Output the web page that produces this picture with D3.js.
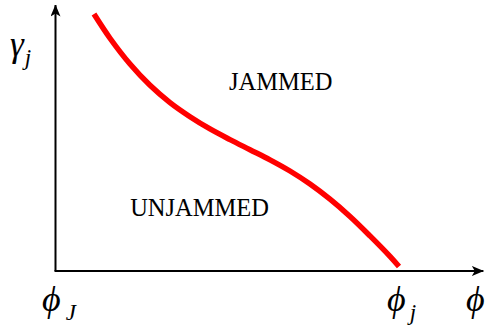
<!DOCTYPE html>
<html>
<head>
<meta charset="utf-8">
<script src="https://cdn.jsdelivr.net/npm/d3@7"></script>
<style>
  html, body { margin: 0; padding: 0; background: #fff; }
  svg { display: block; }
</style>
</head>
<body>
<svg id="chart" width="489" height="325"></svg>
<script>
// Jamming line: packing fraction (phi) vs. jamming threshold (gamma), normalised units
const phi   = [0.0895, 0.1267, 0.1733, 0.2198, 0.2663, 0.3128, 0.3593, 0.4058, 0.4523, 0.4988, 0.5453, 0.5919, 0.6384, 0.6849, 0.7314, 0.7779, 0.7988];
const gamma = [0.966, 0.875, 0.778, 0.698, 0.633, 0.580, 0.534, 0.494, 0.456, 0.418, 0.376, 0.327, 0.270, 0.205, 0.132, 0.055, 0.017];

// Region labels and their anchor positions in data units
const regionLabels = ["JAMMED", "UNJAMMED"];
const regionX = [0.524, 0.335];
const regionY = [0.68, 0.207];

const SERIF = "'Liberation Serif', 'Times New Roman', 'DejaVu Serif', serif";

const svg = d3.select("#chart");
const x0 = 55.5, y0 = 271;

const x = d3.scaleLinear().domain([0, 1]).range([x0, x0 + 430]);
const y = d3.scaleLinear().domain([0, 1]).range([y0, y0 - 266]);

// arrowhead
svg.append("defs").append("marker")
  .attr("id", "arrow")
  .attr("viewBox", "0 0 12 10")
  .attr("refX", 11.5).attr("refY", 5)
  .attr("markerWidth", 12).attr("markerHeight", 10)
  .attr("markerUnits", "userSpaceOnUse")
  .attr("orient", "auto")
  .append("path")
  .attr("d", "M0,0 L12,5 L0,10 L3,5 Z")
  .attr("fill", "#000");

// axes
svg.append("line")
  .attr("x1", x(0)).attr("y1", y(0))
  .attr("x2", x(0)).attr("y2", y(1.0))
  .attr("stroke", "#000").attr("stroke-width", 2)
  .attr("marker-end", "url(#arrow)");
svg.append("line")
  .attr("x1", x(0) - 1).attr("y1", y(0))
  .attr("x2", x(0.995)).attr("y2", y(0))
  .attr("stroke", "#000").attr("stroke-width", 2)
  .attr("marker-end", "url(#arrow)");

// jamming curve
const line = d3.line()
  .x((d, i) => x(phi[i]))
  .y((d, i) => y(gamma[i]))
  .curve(d3.curveCatmullRom.alpha(0.5));
svg.append("path")
  .datum(phi)
  .attr("d", line)
  .attr("fill", "none")
  .attr("stroke", "#f00")
  .attr("stroke-width", 5.5);

// region labels
svg.selectAll("text.region")
  .data(regionLabels)
  .enter().append("text")
  .attr("class", "region")
  .attr("font-family", SERIF)
  .attr("x", (d, i) => x(regionX[i]))
  .attr("y", (d, i) => y(regionY[i]))
  .attr("text-anchor", "middle")
  .attr("font-size", 24.5)
  .attr("fill", "#000")
  .text(d => d);

// math labels
function mathLabel(px, py, main, sub, dx, size) {
  const t = svg.append("text")
    .attr("font-family", SERIF).attr("font-style", "italic").attr("fill", "#000")
    .attr("x", px).attr("y", py).attr("font-size", size);
  t.append("tspan").text(main);
  if (sub) t.append("tspan").attr("dx", dx).attr("dy", 9).attr("font-size", 23).text(sub);
}
mathLabel(10, 56, "\u03B3", "j", 1, 35);
mathLabel(42, 311, "\u03D5", "J", 5, 36);
mathLabel(387, 311, "\u03D5", "j", 4, 36);
mathLabel(466, 311, "\u03D5", null, 0, 36);
</script>
</body>
</html>
